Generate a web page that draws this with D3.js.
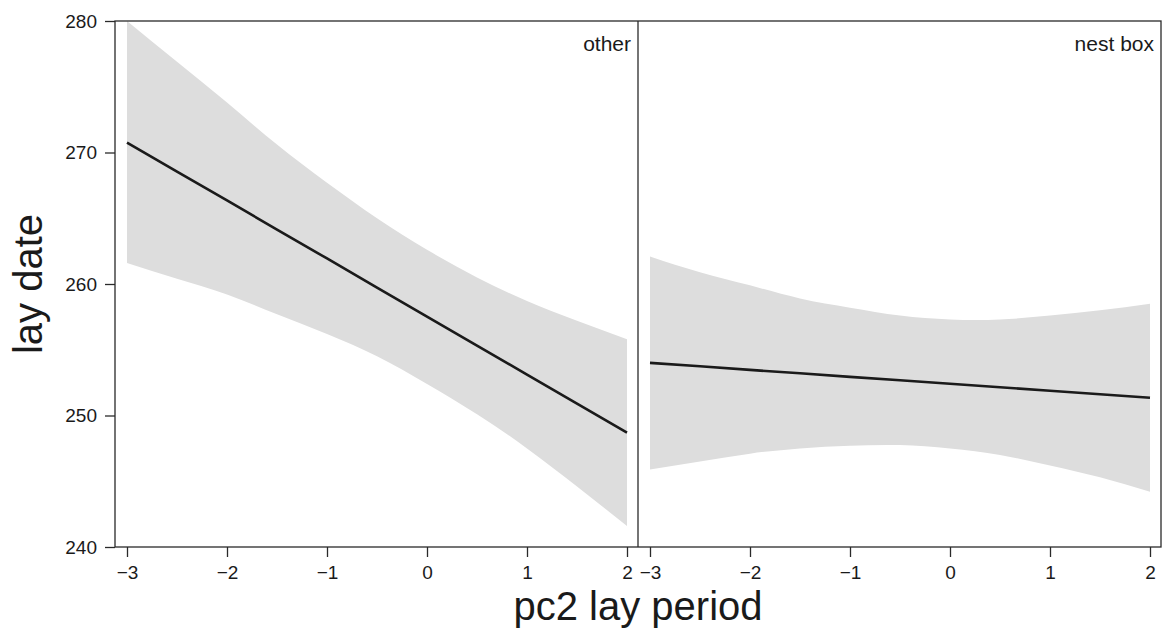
<!DOCTYPE html>
<html>
<head>
<meta charset="utf-8">
<script src="https://cdn.jsdelivr.net/npm/d3@7"></script>
<style>
  body { margin: 0; background: #fff; }
  text { font-family: "Liberation Sans", Arial, sans-serif; fill: #1a1a1a; }
</style>
</head>
<body>
<div id="chart"></div>
<script>
// panels (facets)
var panels = ["other", "nest box"];
var xGrid = [-3, -2.5, -2, -1.5, -1, -0.5, 0, 0.5, 1, 1.5, 2];

// fitted lay date and confidence band
var otherFit   = [270.76, 268.55, 266.35, 264.14, 261.94, 259.73, 257.52, 255.32, 253.11, 250.91, 248.70];
var otherUpper = [280.0, 276.9, 273.8, 270.6, 267.7, 265.0, 262.6, 260.5, 258.7, 257.2, 255.8];
var otherLower = [261.6, 260.4, 259.2, 257.7, 256.2, 254.5, 252.4, 250.1, 247.5, 244.6, 241.6];

var nestFit   = [254.00, 253.74, 253.47, 253.21, 252.94, 252.68, 252.41, 252.15, 251.88, 251.62, 251.35];
var nestUpper = [262.1, 260.9, 259.9, 258.9, 258.2, 257.6, 257.3, 257.3, 257.6, 258.0, 258.5];
var nestLower = [245.9, 246.5, 247.1, 247.5, 247.7, 247.75, 247.5, 247.0, 246.2, 245.3, 244.2];

var xTicks = [-3, -2, -1, 0, 1, 2];
var yTicks = [240, 250, 260, 270, 280];

(function(){
    var width = 1168;
    var height = 636;
    var pTop = 21, pBottom = 547, pLeft = 115, pRight = 1161;
    var mid = (pLeft + pRight) / 2;

    var svg = d3.select("#chart")
        .append("svg")
        .attr("width", width)
        .attr("height", height);

    var y = d3.scaleLinear().domain([240, 280]).range([pBottom, pTop]);

    var series = [
        {name: panels[0], fit: otherFit, upper: otherUpper, lower: otherLower, x0: pLeft, x1: mid},
        {name: panels[1], fit: nestFit, upper: nestUpper, lower: nestLower, x0: mid, x1: pRight}
    ];

    series.forEach(function(s){
        var x = d3.scaleLinear().domain([-3.12, 2.11]).range([s.x0, s.x1]);
        var rows = xGrid.map(function(v, i){
            return {x: v, fit: s.fit[i], upper: s.upper[i], lower: s.lower[i]};
        });

        var area = d3.area()
            .curve(d3.curveNatural)
            .x(function(d){ return x(d.x); })
            .y0(function(d){ return y(d.lower); })
            .y1(function(d){ return y(d.upper); });

        var line = d3.line()
            .x(function(d){ return x(d.x); })
            .y(function(d){ return y(d.fit); });

        svg.append("path")
            .datum(rows)
            .attr("d", area)
            .attr("fill", "#dddddd");

        svg.append("path")
            .datum(rows)
            .attr("d", line)
            .attr("fill", "none")
            .attr("stroke", "#1a1a1a")
            .attr("stroke-width", 2.6);

        var xAxis = svg.append("g")
            .attr("transform", "translate(0," + pBottom + ")")
            .call(d3.axisBottom(x).tickValues(xTicks).tickSize(10).tickPadding(9)
                .tickFormat(function(d){ return d < 0 ? "\u2212" + Math.abs(d) : d; }));
        xAxis.select(".domain").remove();
        xAxis.selectAll("line").attr("stroke", "#2a2a2a").attr("stroke-width", 1.3);
        xAxis.selectAll("text")
            .attr("font-size", 19)
            .attr("font-family", "Liberation Sans, Arial, sans-serif")
            .attr("fill", "#1a1a1a");

        svg.append("text")
            .attr("x", s.x1 - 7)
            .attr("y", 51)
            .attr("text-anchor", "end")
            .attr("font-size", 21)
            .text(s.name);
    });

    var yAxis = svg.append("g")
        .attr("transform", "translate(" + pLeft + ",0)")
        .call(d3.axisLeft(y).tickValues(yTicks).tickSize(10).tickPadding(8));
    yAxis.select(".domain").remove();
    yAxis.selectAll("line").attr("stroke", "#2a2a2a").attr("stroke-width", 1.3);
    yAxis.selectAll("text")
        .attr("font-size", 19)
        .attr("font-family", "Liberation Sans, Arial, sans-serif")
        .attr("fill", "#1a1a1a");

    // frame + facet divider
    svg.append("rect")
        .attr("x", pLeft).attr("y", pTop)
        .attr("width", pRight - pLeft).attr("height", pBottom - pTop)
        .attr("fill", "none")
        .attr("stroke", "#2a2a2a")
        .attr("stroke-width", 1.3);
    svg.append("line")
        .attr("x1", mid).attr("x2", mid)
        .attr("y1", pTop).attr("y2", pBottom)
        .attr("stroke", "#2a2a2a")
        .attr("stroke-width", 1.3);

    svg.append("text")
        .attr("x", mid)
        .attr("y", 620)
        .attr("text-anchor", "middle")
        .attr("font-size", 40)
        .text("pc2 lay period");

    svg.append("text")
        .attr("transform", "translate(42," + ((pTop + pBottom) / 2) + ") rotate(-90)")
        .attr("text-anchor", "middle")
        .attr("font-size", 40)
        .text("lay date");
})();
</script>
</body>
</html>
